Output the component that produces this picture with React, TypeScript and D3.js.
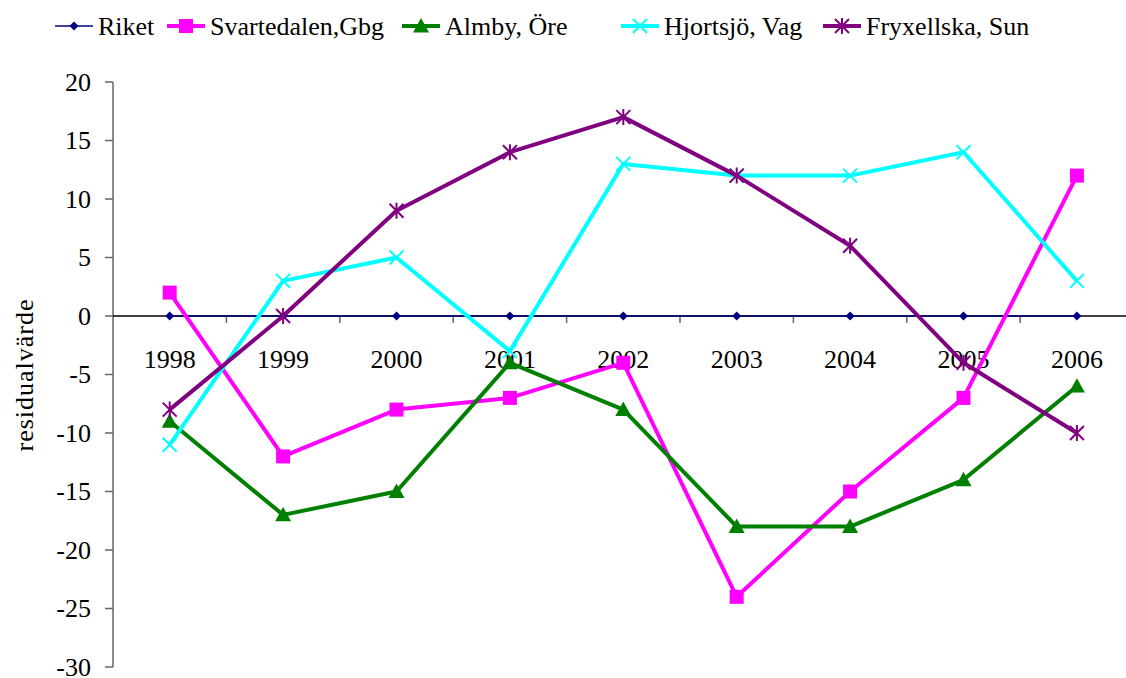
import React from "react";
import * as d3 from "d3";

const years = ["1998", "1999", "2000", "2001", "2002", "2003", "2004", "2005", "2006"];
const riket = [0, 0, 0, 0, 0, 0, 0, 0, 0];
const svartedalen = [2, -12, -8, -7, -4, -24, -15, -7, 12];
const almby = [-9, -17, -15, -4, -8, -18, -18, -14, -6];
const hjortsjo = [-11, 3, 5, -3, 13, 12, 12, 14, 3];
const fryxellska = [-8, 0, 9, 14, 17, 12, 6, -4, -10];
const yTicks = [20, 15, 10, 5, 0, -5, -10, -15, -20, -25, -30];

const series = [
  { name: "Riket", values: riket, color: "#000080", width: 1.5, marker: "diamond" },
  { name: "Svartedalen,Gbg", values: svartedalen, color: "#FF00FF", width: 4, marker: "square" },
  { name: "Almby, Öre", values: almby, color: "#008000", width: 4, marker: "triangle" },
  { name: "Hjortsjö, Vag", values: hjortsjo, color: "#00FFFF", width: 4, marker: "x" },
  { name: "Fryxellska, Sun", values: fryxellska, color: "#800080", width: 4, marker: "star" },
];
const legendX = [55, 167, 402, 621, 823];

function Marker({ type, x, y, color }: { type: string; x: number; y: number; color: string }) {
  if (type === "diamond") {
    const s = 4.5;
    return <path d={`M${x},${y - s}L${x + s},${y}L${x},${y + s}L${x - s},${y}Z`} fill={color} />;
  }
  if (type === "square") {
    const s = 7;
    return <rect x={x - s} y={y - s} width={2 * s} height={2 * s} fill={color} />;
  }
  if (type === "triangle") {
    const s = 8;
    return <path d={`M${x},${y - s}L${x + s},${y + s * 0.8}L${x - s},${y + s * 0.8}Z`} fill={color} />;
  }
  if (type === "x") {
    const s = 7;
    return (
      <path d={`M${x - s},${y - s}L${x + s},${y + s}M${x - s},${y + s}L${x + s},${y - s}`} stroke={color} strokeWidth={2} />
    );
  }
  const s = 7;
  return (
    <path
      d={`M${x - s},${y - s}L${x + s},${y + s}M${x - s},${y + s}L${x + s},${y - s}M${x},${y - s - 1}L${x},${y + s + 1}`}
      stroke={color}
      strokeWidth={2}
    />
  );
}

export default function App() {
  const W = 1126;
  const H = 678;
  const left = 113;
  const bandW = 113.4;
  const x = d3.scaleBand<string>().domain(years).range([left, left + bandW * years.length]);
  const y = d3.scaleLinear().domain([-30, 20]).range([667, 82]);
  const cx = (yr: string) => (x(yr) as number) + x.bandwidth() / 2;
  const line = d3
    .line<number>()
    .x((_, i) => cx(years[i]))
    .y((v) => y(v));
  const y0 = y(0);
  const fs = 26;
  const ff = "Liberation Serif";

  return (
    <svg width={W} height={H} style={{ position: "absolute", left: 0, top: 0 }} fontFamily={ff}>
      <rect width={W} height={H} fill="#fff" />
      {/* legend */}
      {series.map((s, i) => (
        <g key={s.name}>
          <line x1={legendX[i]} x2={legendX[i] + 38} y1={26} y2={26} stroke={s.color} strokeWidth={s.width} />
          <Marker type={s.marker} x={legendX[i] + 19} y={26} color={s.color} />
          <text x={legendX[i] + 43} y={35} fontSize={fs} fill="#000" fontFamily={ff}>
            {s.name}
          </text>
        </g>
      ))}
      {/* y axis */}
      <line x1={left} x2={left} y1={y(20)} y2={y(-30)} stroke="#666" strokeWidth={1.5} />
      {yTicks.map((t) => (
        <g key={t}>
          <line x1={left - 8} x2={left} y1={y(t)} y2={y(t)} stroke="#666" strokeWidth={1.5} />
          <text x={91} y={y(t) + 8.5} fontSize={fs} textAnchor="end" fill="#000" fontFamily={ff}>
            {t}
          </text>
        </g>
      ))}
      <text
        transform={`translate(33,375) rotate(-90)`}
        fontSize={fs}
        letterSpacing={1}
        textAnchor="middle"
        fill="#000"
        fontFamily={ff}
      >
        residualvärde
      </text>
      {/* x axis along zero */}
      <line x1={left} x2={W} y1={y0} y2={y0} stroke="#000" strokeWidth={1.5} />
      {years.slice(1).map((yr) => (
        <line key={yr} x1={x(yr) as number} x2={x(yr) as number} y1={y0} y2={y0 + 7} stroke="#666" strokeWidth={1.5} />
      ))}
      {years.map((yr) => (
        <text key={yr} x={cx(yr)} y={y0 + 52} fontSize={fs} textAnchor="middle" fill="#000" fontFamily={ff}>
          {yr}
        </text>
      ))}
      {/* series */}
      {series.map((s) => (
        <g key={s.name}>
          <path d={line(s.values) as string} fill="none" stroke={s.color} strokeWidth={s.width} strokeLinejoin="round" />
          {s.values.map((v, i) => (
            <Marker key={i} type={s.marker} x={cx(years[i])} y={y(v)} color={s.color} />
          ))}
        </g>
      ))}
    </svg>
  );
}
